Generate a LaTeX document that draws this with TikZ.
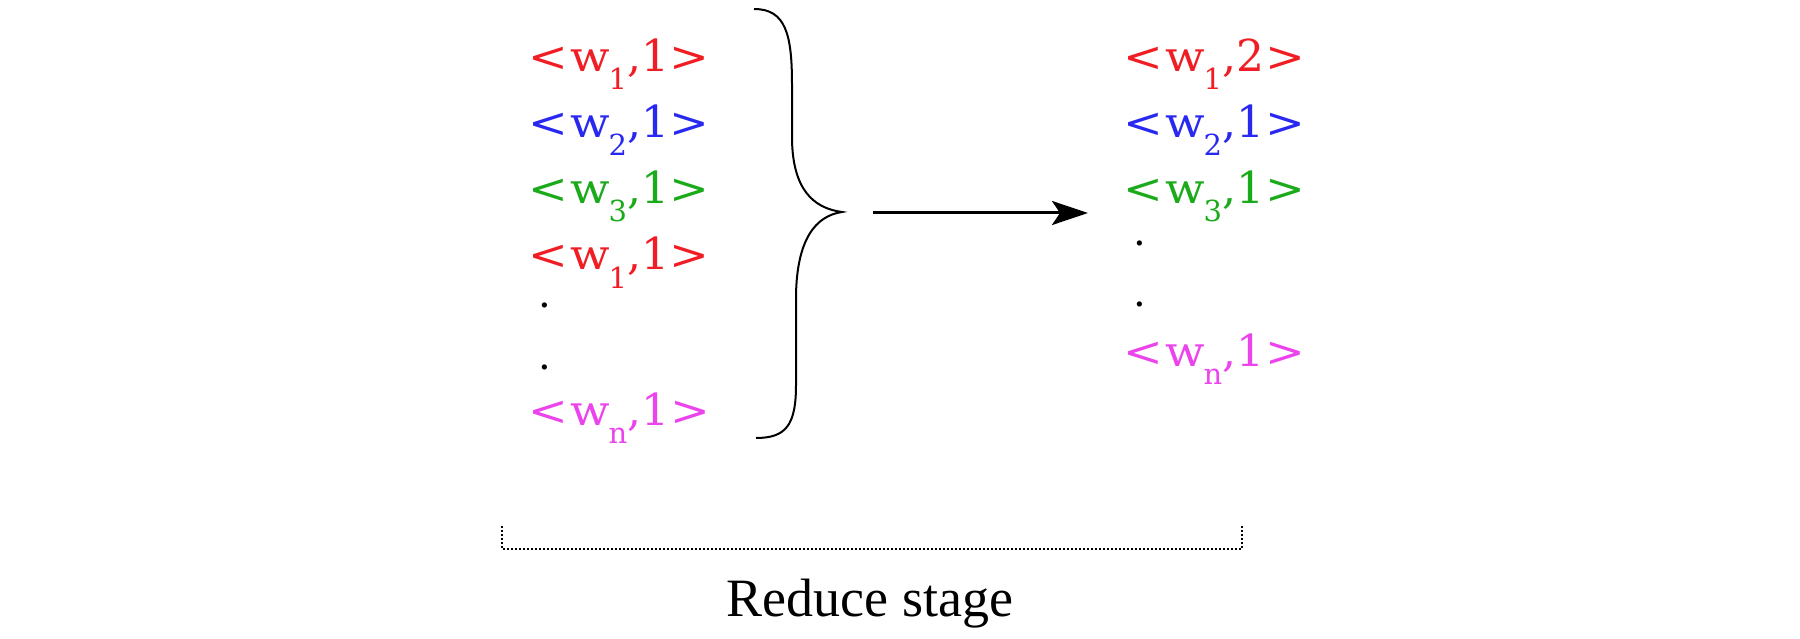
\documentclass[tikz,border=0pt]{standalone}
\usepackage{fontspec}
\setmainfont{Liberation Serif}
\newfontfamily\kvfont{DejaVu Serif}
\usepackage{graphicx}
\usetikzlibrary{arrows.meta}
\definecolor{cred}{RGB}{240,30,36}
\definecolor{cblue}{RGB}{40,40,240}
\definecolor{cgreen}{RGB}{26,170,26}
\definecolor{cmag}{RGB}{236,68,236}
\newcommand\kv[3]{\textcolor{#1}{\scalebox{1.08}[0.95]{<}\kern2pt\scalebox{1.05}[0.95]{w}\kern-1pt\raisebox{-18pt}{\fontsize{29}{29}\selectfont #2},\kern0pt #3\kern1pt\scalebox{1.08}[0.95]{>}}}
\begin{document}
\begin{tikzpicture}[x=1pt,y=-1pt,
  kvtext/.style={anchor=base west,inner sep=0pt,font=\kvfont\fontsize{44}{48}\selectfont},
  dotnode/.style={anchor=base west,inner sep=0pt,font=\kvfont\fontsize{40}{10}\selectfont},
  bracestyle/.style={line width=2pt},
  arrowstyle/.style={line width=3pt,-{Stealth[length=36pt,width=24pt,inset=8pt]}},
  bracket/.style={line width=2pt,dash pattern=on 2pt off 2pt},
  label/.style={anchor=base,inner sep=0pt,font=\fontsize{54}{60}\selectfont}]
\useasboundingbox (0,0) rectangle (1800,639);
% left column
\node[kvtext] (l1) at (528,72) {\kv{cred}{1}{1}};
\node[kvtext] (l2) at (528,138) {\kv{cblue}{2}{1}};
\node[kvtext] (l3) at (528,204) {\kv{cgreen}{3}{1}};
\node[kvtext] (l4) at (528,270) {\kv{cred}{1}{1}};
\node[dotnode] (l5) at (538,308) {.};
\node[dotnode] (l6) at (538,369) {.};
\node[kvtext] (l7) at (528,425) {\kv{cmag}{n}{1}};
% brace
\coordinate (bt) at (754,9);
\coordinate (bp) at (842,212);
\coordinate (bb) at (756,438);
\draw[bracestyle] (bt) .. controls (786,9) and (792,35) .. (792,85) -- (792,140)
  .. controls (793,188) and (812,208) .. (bp)
  .. controls (815,216) and (797,240) .. (796,295) -- (796,385)
  .. controls (796,425) and (786,438) .. (bb);
% arrow
\coordinate (as) at (873,213);
\coordinate (ae) at (1088,213);
\draw[arrowstyle] (as) -- (ae);
% right column
\node[kvtext] (r1) at (1123,72) {\kv{cred}{1}{2}};
\node[kvtext] (r2) at (1123,138) {\kv{cblue}{2}{1}};
\node[kvtext] (r3) at (1123,204) {\kv{cgreen}{3}{1}};
\node[dotnode] (r4) at (1133,246) {.};
\node[dotnode] (r5) at (1133,306) {.};
\node[kvtext] (r6) at (1123,366) {\kv{cmag}{n}{1}};
% bracket
\coordinate (k1) at (502,526);
\coordinate (k2) at (502,549);
\coordinate (k3) at (1242,549);
\coordinate (k4) at (1242,526);
\draw[bracket] (k1) -- (k2) -- (k3) -- (k4);
\node[label] (lab) at (870,616) {Reduce stage};
\end{tikzpicture}
\end{document}
